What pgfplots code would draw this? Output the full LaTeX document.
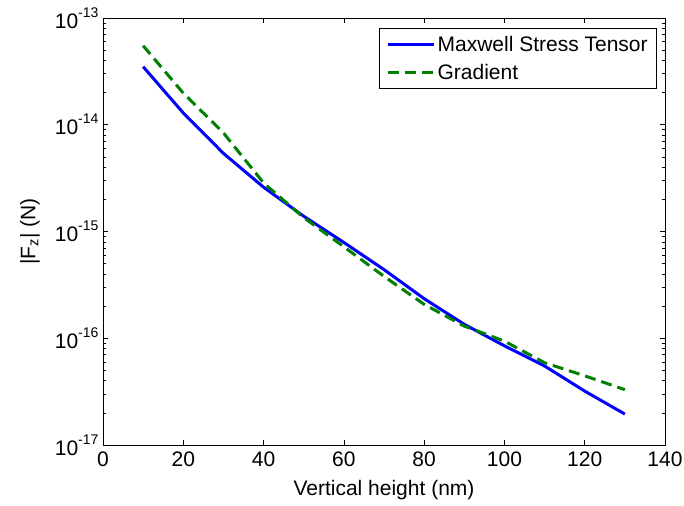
\documentclass[border=0pt]{standalone}
\usepackage{pgfplots}
\pgfplotsset{compat=1.18}
\usepackage{fontspec}
\setmainfont{Liberation Sans}
\definecolor{mblue}{RGB}{0,0,255}
\definecolor{mgreen}{RGB}{0,128,0}
\newcommand{\tp}[1]{10\raisebox{11pt}{\fontsize{14}{14}\selectfont #1}}
\begin{document}
\begin{tikzpicture}
\begin{axis}[
  at={(0,0)}, anchor=south west,
  scale only axis, width=562pt, height=427pt,
  ymode=log,
  xmin=0, xmax=140, ymin=1e-17, ymax=1e-13,
  xtick={0,20,...,140},
  ytick={1e-17,1e-16,1e-15,1e-14,1e-13},
  minor ytick={2e-17,3e-17,4e-17,5e-17,6e-17,7e-17,8e-17,9e-17,
               2e-16,3e-16,4e-16,5e-16,6e-16,7e-16,8e-16,9e-16,
               2e-15,3e-15,4e-15,5e-15,6e-15,7e-15,8e-15,9e-15,
               2e-14,3e-14,4e-14,5e-14,6e-14,7e-14,8e-14,9e-14},
  yticklabels={\tp{-17},\tp{-16},\tp{-15},\tp{-14},\tp{-13}},
  /pgf/number format/assume math mode=true,
  tick align=inside,
  xtick pos=both, ytick pos=both,
  major tick length=5pt, minor tick length=3pt,
  axis line style={line width=0.9pt},
  every tick/.style={black, line width=0.7pt},
  tick label style={font=\fontsize{21}{23}\selectfont},
  xticklabel style={yshift=-3pt},
  yticklabel style={xshift=-1pt},
  label style={font=\fontsize{21}{23}\selectfont},
  xlabel={Vertical height (nm)},
  ylabel={|F\textsubscript{z}| (N)},
  xlabel style={at={(axis description cs:0.5,-0.105)}, anchor=center},
  ylabel style={at={(axis description cs:-0.13,0.5)}, anchor=center},
  legend style={at={(rel axis cs:0.986,0.977)}, anchor=north east,
    font=\fontsize{21}{23}\selectfont, draw=black, line width=0.9pt,
    row sep=7pt, inner xsep=7pt, inner ysep=6pt},
  legend cell align=left,
  legend image code/.code={\draw[#1] (0pt,0pt) -- (46pt,0pt);},
]
\addplot[mblue, line width=3pt] coordinates {
(10,3.5e-14) (20,1.29e-14) (30,5.4e-15) (40,2.6e-15) (50,1.39e-15)
(60,7.9e-16) (70,4.4e-16) (80,2.35e-16) (90,1.35e-16) (100,8.5e-17)
(110,5.5e-17) (120,3.2e-17) (130,1.95e-17)};
\addlegendentry{Maxwell Stress Tensor}
\addplot[mgreen, line width=3pt, dash pattern=on 11pt off 6pt] coordinates {
(10,5.5e-14) (20,1.98e-14) (30,8.4e-15) (40,2.85e-15) (50,1.35e-15)
(60,7.2e-16) (70,3.8e-16) (80,2.08e-16) (90,1.30e-16) (100,9.4e-17)
(110,5.9e-17) (120,4.45e-17) (130,3.3e-17)};
\addlegendentry{Gradient}
\end{axis}
\pgfresetboundingbox
\path (-103pt,-60pt) rectangle (581pt,445pt);
\end{tikzpicture}
\end{document}
